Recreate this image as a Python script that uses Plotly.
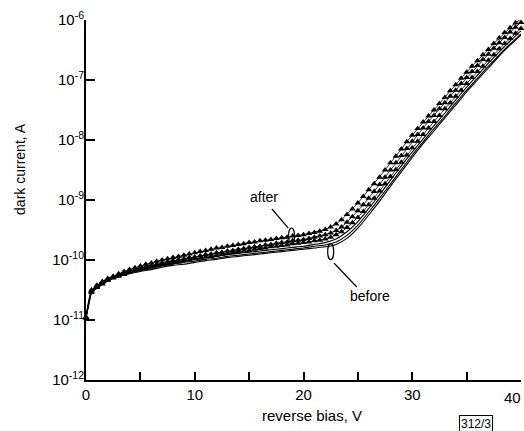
import plotly.graph_objects as go

# reverse bias (V) sample points
V_before = [0, 0.5, 1, 2, 3, 4, 5, 6, 7, 8, 9, 10, 11, 12, 13, 14, 15, 16, 17, 18, 19, 20,
            21, 22, 23, 24, 25, 26, 27, 28, 29, 30, 31, 32, 33, 34, 35, 36, 37, 38, 39, 40]
V_after = [0, 0.5, 1, 1.5, 2, 2.5, 3, 3.5, 4, 4.5, 5, 5.5, 6, 6.5, 7, 7.5, 8, 8.5, 9, 9.5,
           10, 10.5, 11, 11.5, 12, 12.5, 13, 13.5, 14, 14.5, 15, 15.5, 16, 16.5, 17, 17.5,
           18, 18.5, 19, 19.5, 20, 20.5, 21, 21.5, 22, 22.5, 23, 23.5, 24, 24.5, 25, 25.5,
           26, 26.5, 27, 27.5, 28, 28.5, 29, 29.5, 30, 30.5, 31, 31.5, 32, 32.5, 33, 33.5,
           34, 34.5, 35, 35.5, 36, 36.5, 37, 37.5, 38, 38.5, 39, 39.5, 40]

# log10 of dark current (A)
before1_log10 = [-10.97, -10.55, -10.47, -10.35, -10.28, -10.23, -10.19, -10.16, -10.12, -10.09,
                 -10.07, -10.04, -10.01, -9.99, -9.96, -9.94, -9.92, -9.90, -9.88, -9.86, -9.84,
                 -9.82, -9.80, -9.78, -9.74, -9.64, -9.47, -9.25, -9.02, -8.77, -8.53, -8.29,
                 -8.06, -7.85, -7.63, -7.42, -7.20, -7.00, -6.80, -6.60, -6.42, -6.25]
before2_log10 = [-10.96, -10.53, -10.45, -10.33, -10.26, -10.21, -10.17, -10.13, -10.10, -10.07,
                 -10.04, -10.02, -9.99, -9.97, -9.94, -9.92, -9.90, -9.88, -9.86, -9.84, -9.82,
                 -9.80, -9.77, -9.75, -9.70, -9.59, -9.42, -9.20, -8.97, -8.73, -8.49, -8.25,
                 -8.03, -7.81, -7.60, -7.38, -7.17, -6.97, -6.77, -6.58, -6.40, -6.23]
before3_log10 = [-10.95, -10.51, -10.43, -10.31, -10.24, -10.18, -10.14, -10.10, -10.07, -10.04,
                 -10.01, -9.99, -9.96, -9.94, -9.91, -9.89, -9.87, -9.85, -9.83, -9.81, -9.79,
                 -9.77, -9.74, -9.71, -9.65, -9.53, -9.36, -9.14, -8.91, -8.67, -8.43, -8.20,
                 -7.98, -7.76, -7.55, -7.33, -7.12, -6.92, -6.72, -6.53, -6.35, -6.18]

after1_log10 = [-10.95, -10.50, -10.42, -10.36, -10.31, -10.27, -10.23, -10.19, -10.16, -10.13,
                -10.10, -10.07, -10.05, -10.02, -10.00, -9.98, -9.96, -9.94, -9.92, -9.90,
                -9.88, -9.86, -9.84, -9.82, -9.80, -9.79, -9.77, -9.76, -9.74, -9.73,
                -9.71, -9.70, -9.68, -9.67, -9.66, -9.64, -9.63, -9.62, -9.60, -9.59,
                -9.58, -9.56, -9.54, -9.52, -9.49, -9.45, -9.40, -9.33, -9.24, -9.15,
                -9.05, -8.94, -8.83, -8.73, -8.62, -8.50, -8.38, -8.27, -8.15, -8.03,
                -7.92, -7.81, -7.70, -7.60, -7.50, -7.39, -7.29, -7.18, -7.08, -6.97,
                -6.87, -6.77, -6.68, -6.58, -6.49, -6.39, -6.30, -6.21, -6.13, -6.05, -5.98]
after2_log10 = [-10.96, -10.52, -10.44, -10.38, -10.33, -10.29, -10.25, -10.22, -10.19, -10.16,
                -10.13, -10.11, -10.09, -10.07, -10.05, -10.03, -10.01, -9.99, -9.98, -9.96,
                -9.95, -9.93, -9.91, -9.90, -9.88, -9.87, -9.85, -9.84, -9.82, -9.81,
                -9.79, -9.78, -9.77, -9.75, -9.74, -9.72, -9.71, -9.70, -9.68, -9.67,
                -9.66, -9.64, -9.62, -9.60, -9.58, -9.55, -9.51, -9.45, -9.37, -9.28,
                -9.18, -9.08, -8.97, -8.86, -8.74, -8.62, -8.50, -8.38, -8.26, -8.14,
                -8.02, -7.91, -7.80, -7.69, -7.59, -7.48, -7.38, -7.27, -7.17, -7.06,
                -6.96, -6.86, -6.76, -6.66, -6.57, -6.47, -6.38, -6.29, -6.20, -6.12, -6.04]
after3_log10 = [-10.97, -10.54, -10.46, -10.40, -10.34, -10.30, -10.27, -10.24, -10.21, -10.18,
                -10.16, -10.14, -10.12, -10.10, -10.08, -10.06, -10.04, -10.03, -10.01, -10.00,
                -9.98, -9.97, -9.95, -9.94, -9.92, -9.91, -9.89, -9.88, -9.86, -9.85,
                -9.84, -9.82, -9.81, -9.80, -9.78, -9.77, -9.76, -9.75, -9.73, -9.72,
                -9.71, -9.70, -9.68, -9.67, -9.65, -9.62, -9.58, -9.53, -9.46, -9.38,
                -9.29, -9.19, -9.08, -8.97, -8.85, -8.73, -8.61, -8.49, -8.37, -8.25,
                -8.13, -8.02, -7.91, -7.80, -7.69, -7.59, -7.48, -7.38, -7.27, -7.17,
                -7.06, -6.96, -6.86, -6.77, -6.67, -6.58, -6.48, -6.39, -6.31, -6.22, -6.14]

y_tick_vals = [1e-12, 1e-11, 1e-10, 1e-9, 1e-8, 1e-7, 1e-6]
y_tick_text = ["10<sup>-12</sup>", "10<sup>-11</sup>", "10<sup>-10</sup>", "10<sup>-9</sup>",
               "10<sup>-8</sup>", "10<sup>-7</sup>", "10<sup>-6</sup>"]
x_tick_vals = [0, 5, 10, 15, 20, 25, 30, 35, 40]
x_tick_text = ["0", "", "10", "", "20", "", "30", "", ""]
x_edge_label = "40"

FONT = "Liberation Sans, Arial, Helvetica, sans-serif"
X_MIN, X_MAX = 0, 40
LOG_MIN, LOG_MAX = -12, -6


def px(v):
    return (v - X_MIN) / (X_MAX - X_MIN)


def py(lg):
    return (lg - LOG_MIN) / (LOG_MAX - LOG_MIN)


fig = go.Figure()

for arr in (before1_log10, before2_log10, before3_log10):
    fig.add_trace(go.Scatter(
        x=V_before, y=[10 ** v for v in arr], mode="lines",
        line=dict(color="black", width=1.1, shape="spline", smoothing=0.6),
        showlegend=False, hoverinfo="skip", cliponaxis=False))

for arr in (after3_log10, after2_log10, after1_log10):
    fig.add_trace(go.Scatter(
        x=V_after, y=[10 ** v for v in arr], mode="lines+markers",
        line=dict(color="black", width=0.8),
        marker=dict(symbol="triangle-up", size=6, color="black"),
        showlegend=False, hoverinfo="skip", cliponaxis=False))

fig.update_xaxes(
    range=[X_MIN, X_MAX], tickvals=x_tick_vals, ticktext=x_tick_text,
    ticks="inside", ticklen=8, tickwidth=1.5, tickcolor="black",
    showline=True, linecolor="black", linewidth=1.5, showgrid=False, zeroline=False,
    tickfont=dict(family=FONT, size=15, color="black"), automargin=False)
fig.update_yaxes(
    type="log", range=[LOG_MIN, LOG_MAX], tickvals=y_tick_vals, ticktext=y_tick_text,
    ticks="inside", ticklen=9, tickwidth=1.5, tickcolor="black", ticklabelstandoff=-3,
    showline=True, linecolor="black", linewidth=2, showgrid=False, zeroline=False,
    tickfont=dict(family=FONT, size=15, color="black"), automargin=False)

# texts
txt = dict(family=FONT, size=14, color="black")
fig.add_annotation(x=0.9816, y=-0.048, xref="paper", yref="paper", text=x_edge_label,
                   showarrow=False, xanchor="center", yanchor="middle",
                   font=dict(family=FONT, size=15, color="black"))
fig.add_annotation(x=px(16.4), y=py(-8.95), xref="paper", yref="paper", text="after",
                   showarrow=False, xanchor="center", yanchor="middle", font=txt)
fig.add_annotation(x=px(26.1), y=py(-10.6), xref="paper", yref="paper", text="before",
                   showarrow=False, xanchor="center", yanchor="middle", font=txt)
fig.add_annotation(x=-0.152, y=0.586, xref="paper", yref="paper", text="dark current, A",
                   textangle=-90, showarrow=False, xanchor="center", yanchor="middle", font=txt)
fig.add_annotation(x=0.5205, y=-0.098, xref="paper", yref="paper", text="reverse bias, V",
                   showarrow=False, xanchor="center", yanchor="middle",
                   font=dict(family=FONT, size=15, color="black"))
fig.add_annotation(x=0.897, y=-0.122, xref="paper", yref="paper", text="312/3", showarrow=False,
                   font=dict(family=FONT, size=12, color="black"), bordercolor="black",
                   borderwidth=1, borderpad=1, xanchor="center", yanchor="middle")

# leader lines and ellipses
line_style = dict(color="black", width=1.2)
fig.add_shape(type="line", xref="paper", yref="paper", x0=px(17.1), y0=py(-9.15),
              x1=px(18.6), y1=py(-9.47), line=line_style)
fig.add_shape(type="circle", xref="paper", yref="paper", xsizemode="pixel", ysizemode="pixel",
              xanchor=px(18.9), yanchor=py(-9.6), x0=-3, x1=3, y0=-8, y1=8, line=line_style)
fig.add_shape(type="line", xref="paper", yref="paper", x0=px(22.8), y0=py(-10.05),
              x1=px(24.9), y1=py(-10.45), line=line_style)
fig.add_shape(type="circle", xref="paper", yref="paper", xsizemode="pixel", ysizemode="pixel",
              xanchor=px(22.5), yanchor=py(-9.86), x0=-3, x1=3, y0=-8, y1=8, line=line_style)

fig.update_layout(
    width=524, height=431,
    margin=dict(l=86, r=3, t=20, b=51),
    paper_bgcolor="white", plot_bgcolor="white",
    font=dict(family=FONT, size=14, color="black"),
    showlegend=False)

fig.write_html("out.html", config={"displayModeBar": False},
               post_script="document.body.style.margin='0';document.body.style.overflow='hidden';")
